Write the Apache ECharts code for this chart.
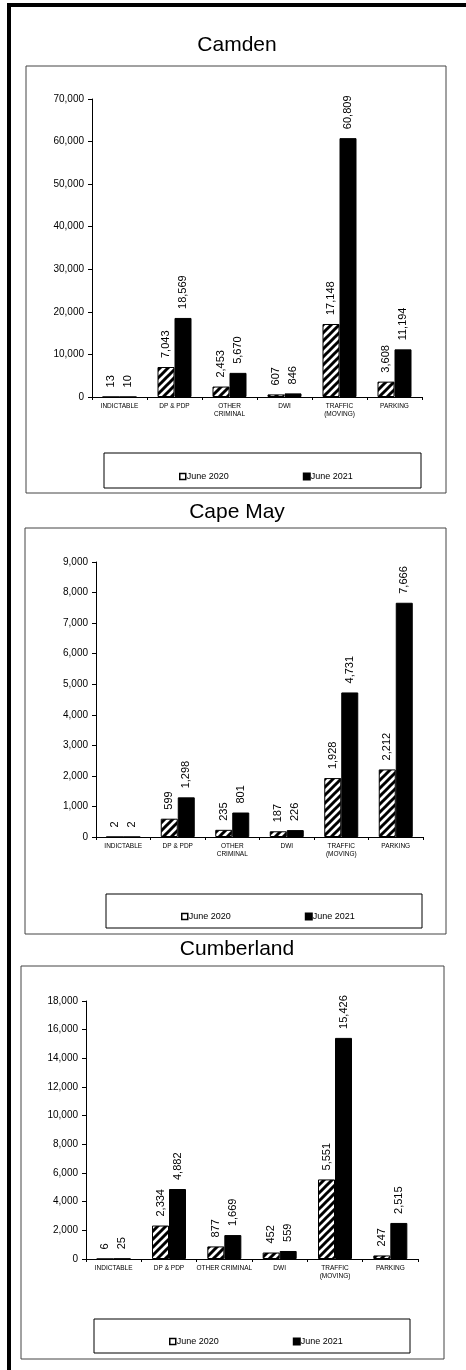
<!DOCTYPE html>
<html>
<head>
<meta charset="utf-8">
<script src="https://cdn.jsdelivr.net/npm/echarts@6/dist/echarts.min.js"></script>
<style>
  html, body { margin: 0; padding: 0; background: #fff; }
  #chart { width: 466px; height: 1370px; }
</style>
</head>
<body>
<div id="chart"></div>
<script>
  // data
  const seriesNames = ['June 2020', 'June 2021']
  const countyNames = ['Camden', 'Cape May', 'Cumberland']
  const categories = ['INDICTABLE', 'DP & PDP', 'OTHER\nCRIMINAL', 'DWI', 'TRAFFIC\n(MOVING)', 'PARKING']
  const categoriesCumberland = ['INDICTABLE', 'DP & PDP', 'OTHER CRIMINAL', 'DWI', 'TRAFFIC\n(MOVING)', 'PARKING']
  const camden2020 = [13, 7043, 2453, 607, 17148, 3608]
  const camden2021 = [10, 18569, 5670, 846, 60809, 11194]
  const capeMay2020 = [2, 599, 235, 187, 1928, 2212]
  const capeMay2021 = [2, 1298, 801, 226, 4731, 7666]
  const cumberland2020 = [6, 2334, 877, 452, 5551, 247]
  const cumberland2021 = [25, 4882, 1669, 559, 15426, 2515]
  const yMaxes = [70000, 9000, 18000]
  const yIntervals = [10000, 1000, 2000]

  const panelData = [
    { cats: categories, values: [camden2020, camden2021] },
    { cats: categories, values: [capeMay2020, capeMay2021] },
    { cats: categoriesCumberland, values: [cumberland2020, cumberland2021] },
  ]

  // layout of the three panels (pixels)
  const layout = [
    { titleY: 45, box: [26, 66, 420, 427], grid: { left: 92, right: 44, top: 99, height: 298 }, legBox: [104, 453, 317, 35], legend: { left: 174, top: 467 } },
    { titleY: 512, box: [25, 528, 421, 406], grid: { left: 96, right: 43, top: 562, height: 275 }, legBox: [106, 894, 316, 34], legend: { left: 176, top: 907 } },
    { titleY: 949, box: [21, 966, 423, 393], grid: { left: 86, right: 48, top: 1001, height: 258 }, legBox: [94, 1319, 316, 34], legend: { left: 164, top: 1332 } },
  ]

  const FONT = 'Liberation Sans, Arial, sans-serif'

  // diagonal hatch for the 2020 bars
  function makeHatch() {
    const s = 8
    const c = document.createElement('canvas')
    c.width = s
    c.height = s
    const g = c.getContext('2d')
    g.fillStyle = '#fff'
    g.fillRect(0, 0, s, s)
    g.strokeStyle = '#000'
    g.lineWidth = 3
    g.beginPath()
    g.moveTo(-1, s + 1); g.lineTo(s + 1, -1)
    g.moveTo(-1, 1); g.lineTo(1, -1)
    g.moveTo(s - 1, s + 1); g.lineTo(s + 1, s - 1)
    g.stroke()
    return c
  }
  const hatch = { image: makeHatch(), repeat: 'repeat' }

  const fmt = v => Number(v).toLocaleString('en-US')

  const grids = [], xAxes = [], yAxes = [], series = [], legends = []
  const graphics = [
    // heavy page frame, top and left
    { type: 'rect', shape: { x: 7, y: 3, width: 459, height: 4 }, style: { fill: '#000' } },
    { type: 'rect', shape: { x: 7, y: 3, width: 4, height: 1367 }, style: { fill: '#000' } },
  ]

  layout.forEach((L, k) => {
    grids.push(Object.assign({ containLabel: false }, L.grid))
    xAxes.push({
      type: 'category',
      gridIndex: k,
      data: panelData[k].cats,
      axisLine: { lineStyle: { color: '#000', width: 1 } },
      axisTick: { show: true, length: 3, lineStyle: { color: '#000' } },
      axisLabel: { color: '#000', fontSize: 6.5, lineHeight: 8, fontFamily: FONT, margin: 5, interval: 0 },
    })
    yAxes.push({
      type: 'value',
      gridIndex: k,
      min: 0,
      max: yMaxes[k],
      interval: yIntervals[k],
      axisLine: { show: true, lineStyle: { color: '#000', width: 1 } },
      axisTick: { show: true, length: 4, lineStyle: { color: '#000' } },
      splitLine: { show: false },
      axisLabel: { color: '#000', fontSize: 10, fontFamily: FONT, margin: 8, formatter: fmt },
    })
    seriesNames.forEach((name, i) => {
      series.push({
        type: 'bar',
        name: name,
        xAxisIndex: k,
        yAxisIndex: k,
        data: panelData[k].values[i],
        barWidth: 17,
        barGap: '0%',
        itemStyle: { color: i === 0 ? hatch : '#000', borderColor: '#000', borderWidth: 1 },
        label: {
          show: true,
          position: 'top',
          rotate: 90,
          align: 'left',
          verticalAlign: 'middle',
          distance: 9,
          fontSize: 11,
          fontFamily: FONT,
          color: '#000',
          formatter: p => fmt(p.value),
        },
      })
    })
    legends.push({
      left: L.legend.left,
      top: L.legend.top,
      orient: 'horizontal',
      itemWidth: 6,
      itemHeight: 6,
      itemGap: 74,
      icon: 'rect',
      textStyle: { fontSize: 9, fontFamily: FONT, color: '#000', padding: [0, 0, 0, -4] },
      data: [
        { name: seriesNames[0], itemStyle: { color: '#fff', borderColor: '#000', borderWidth: 1.5 } },
        { name: seriesNames[1], itemStyle: { color: '#000' } },
      ],
      selectedMode: false,
    })
    graphics.push(
      { type: 'text', x: 237, y: L.titleY, style: { text: countyNames[k], fontSize: 21, fontFamily: FONT, fill: '#000', textAlign: 'center', textVerticalAlign: 'middle' } },
      { type: 'rect', shape: { x: L.box[0], y: L.box[1], width: L.box[2], height: L.box[3] }, style: { fill: 'none', stroke: '#444', lineWidth: 1 } },
      { type: 'rect', shape: { x: L.legBox[0], y: L.legBox[1], width: L.legBox[2], height: L.legBox[3] }, style: { fill: 'none', stroke: '#000', lineWidth: 1 } }
    )
  })

  const myChart = echarts.init(document.getElementById('chart'), null, { renderer: 'canvas' })
  myChart.setOption({
    animation: false,
    backgroundColor: '#fff',
    grid: grids,
    xAxis: xAxes,
    yAxis: yAxes,
    legend: legends,
    series: series,
    graphic: graphics,
  })
</script>
</body>
</html>
